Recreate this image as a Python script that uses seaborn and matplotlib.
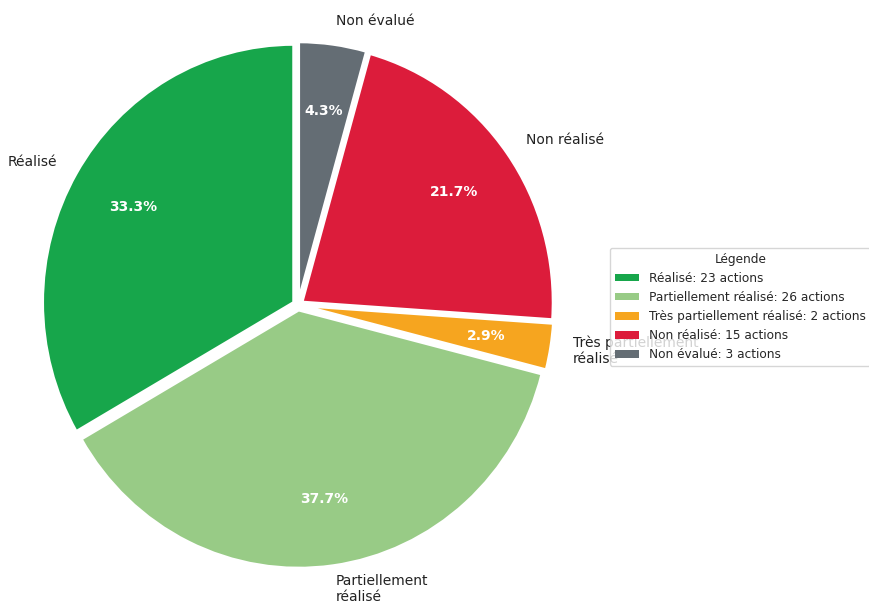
import matplotlib
matplotlib.use("Agg")
import matplotlib.pyplot as plt
from matplotlib.patches import Patch
import seaborn as sns

categories = ["Réalisé", "Partiellement réalisé", "Très partiellement réalisé",
              "Non réalisé", "Non évalué"]
wrapped_labels = ["Réalisé", "Partiellement\nréalisé", "Très partiellement\nréalisé",
                  "Non réalisé", "Non évalué"]
counts = [23, 26, 2, 15, 3]
colors = ["#17A64B", "#98CB86", "#F6A51F", "#DC1C3B", "#646D74"]

sns.set_style("white")
plt.rcParams['font.family'] = ['DejaVu Sans']

fig = plt.figure(figsize=(8.69, 6.07), dpi=100)
ax = fig.add_axes([0, 0, 1, 1])

wedges, texts, autotexts = ax.pie(
    counts, labels=wrapped_labels, colors=colors, startangle=90,
    explode=[0.02] * len(counts), autopct='%1.1f%%', pctdistance=0.74,
    labeldistance=1.09,
    wedgeprops=dict(edgecolor='white', linewidth=2),
    textprops=dict(fontsize=10, color='#222222'))
for t in autotexts:
    t.set_color('white')
    t.set_fontweight('bold')
    t.set_fontsize(10)

ax.set_aspect('auto')
W, H = 869, 607
cx, cy = 298, 305
rx, ry = 251, 258
xl, yl = 1.2, 1.17
ax.set_xlim(-xl, xl)
ax.set_ylim(-yl, yl)
wpx = 2 * xl * rx
hpx = 2 * yl * ry
ax.set_position([(cx - wpx / 2) / W, ((H - cy) - hpx / 2) / H, wpx / W, hpx / H])
ax.axis('off')

legend_labels = [f"{c}: {n} actions" for c, n in zip(categories, counts)]
handles = [Patch(facecolor=c, edgecolor='none') for c in colors]
leg = ax.legend(handles, legend_labels, title="Légende", loc='upper left',
                bbox_to_anchor=(610 / W, 1 - 248 / H), bbox_transform=fig.transFigure,
                borderaxespad=0, fontsize=8.7, title_fontsize=8.7,
                handleheight=0.6, labelspacing=0.5)

fig.savefig("out.png", dpi=100)
